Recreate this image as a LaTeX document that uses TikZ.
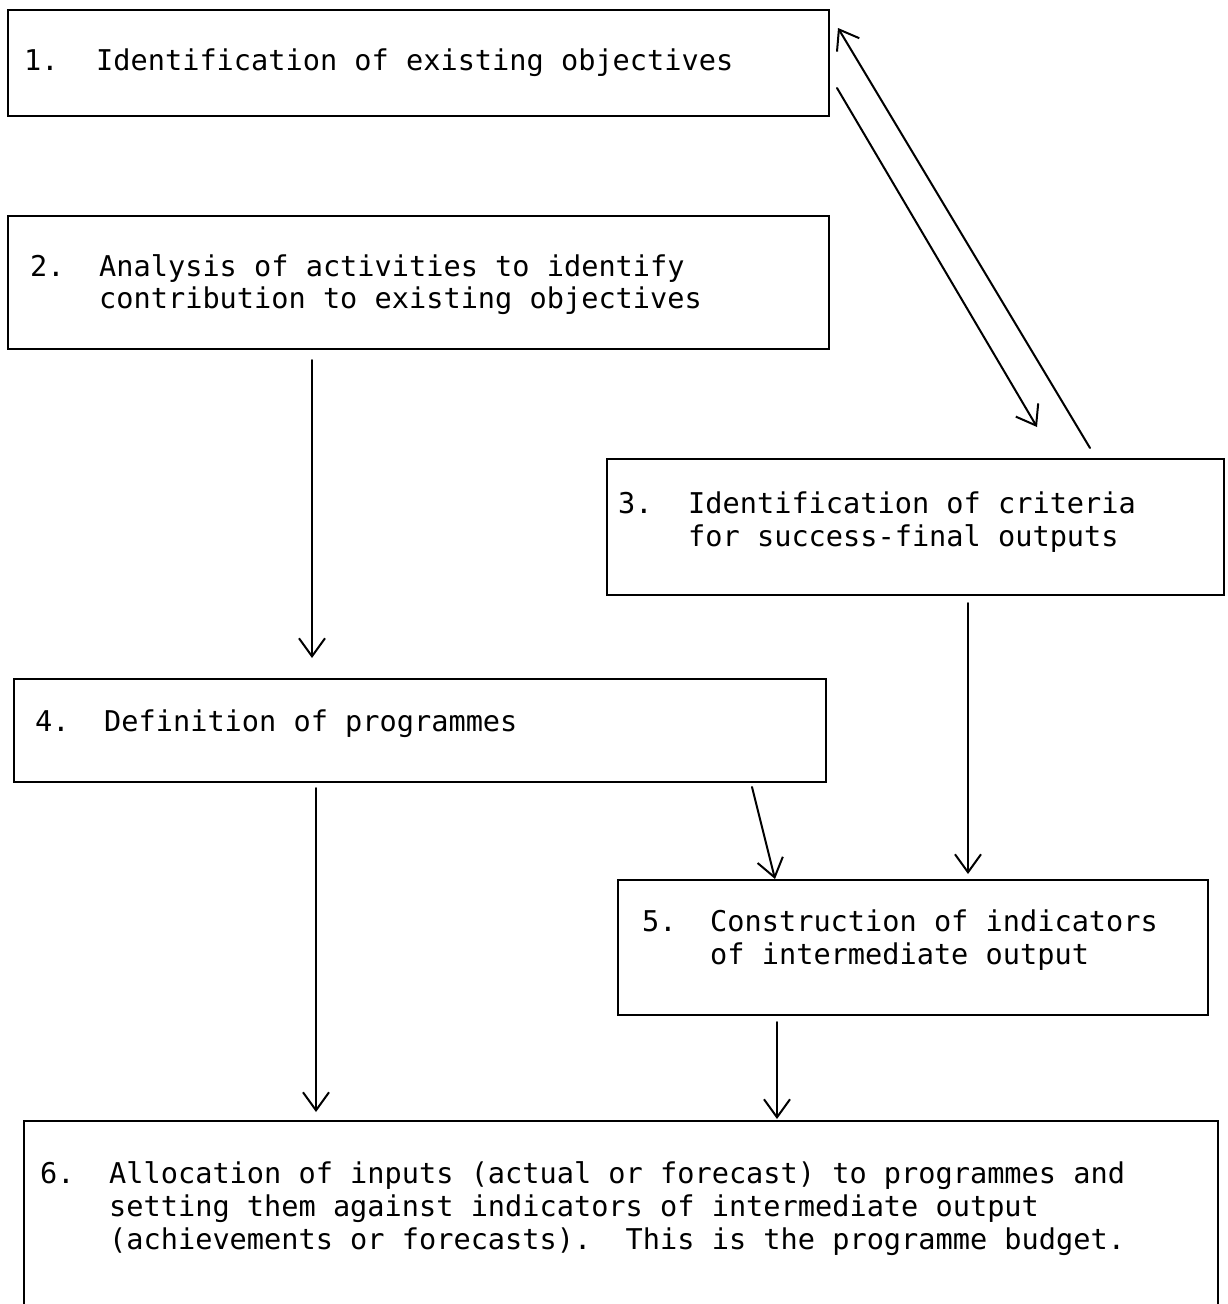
\documentclass[tikz,border=0pt]{standalone}
\usepackage{fontspec}
\setmonofont{DejaVu Sans Mono}
\usetikzlibrary{arrows.meta}
\begin{document}
\frenchspacing
\begin{tikzpicture}[x=1pt,y=-1pt,
  box/.style={draw, line width=2.4pt, inner sep=0pt, outer sep=0pt, anchor=north west},
  txt/.style={font=\ttfamily\fontsize{28.6}{33}\selectfont, anchor=base west, inner sep=0pt},
  arr/.style={line width=2pt, line cap=round, -{Straight Barb[length=18pt,width=26pt,line width=2pt]}}]
\useasboundingbox (0,0) rectangle (1227,1304);
\fill[white] (0,0) rectangle (1227,1304);
% boxes
\node[box, minimum width=821pt, minimum height=106pt] (b1) at (8,10) {};
\node[box, minimum width=821pt, minimum height=133pt] (b2) at (8,216) {};
\node[box, minimum width=617pt, minimum height=136pt] (b3) at (607,459) {};
\node[box, minimum width=812pt, minimum height=103pt] (b4) at (14,679) {};
\node[box, minimum width=590pt, minimum height=135pt] (b5) at (618,880) {};
\node[box, minimum width=1194pt, minimum height=191pt] (b6) at (24,1121) {};
% texts
\node[txt] (n1) at (24,70) {1.};
\node[txt] (t1) at (96,70) {Identification of existing objectives};
\node[txt] (n2) at (30,276) {2.};
\node[txt] (t2a) at (99,276) {Analysis of activities to identify};
\node[txt] (t2b) at (99,308) {contribution to existing objectives};
\node[txt] (n3) at (618,513) {3.};
\node[txt] (t3a) at (688,513) {Identification of criteria};
\node[txt] (t3b) at (688,546) {for success-final outputs};
\node[txt] (n4) at (35,731) {4.};
\node[txt] (t4) at (104,731) {Definition of programmes};
\node[txt] (n5) at (642,931) {5.};
\node[txt] (t5a) at (710,931) {Construction of indicators};
\node[txt] (t5b) at (710,964) {of intermediate output};
\node[txt] (n6) at (40,1183) {6.};
\node[txt] (t6a) at (109,1183) {Allocation of inputs (actual or forecast) to programmes and};
\node[txt] (t6b) at (109,1216) {setting them against indicators of intermediate output};
\node[txt] (t6c) at (109,1249) {(achievements or forecasts).\ \ This is the programme budget.};
% connector reference points
\coordinate (xa) at (312,0);
\coordinate (xb) at (316,0);
\coordinate (xd) at (968,0);
\coordinate (xe) at (777,0);
\path (b4.south east) ++(-74,5) coordinate (c4s);
\path (b5.north west) ++(157,-1) coordinate (c5n);
\path (b1.east) ++(8,25) coordinate (c1s);
\path (b3.north west) ++(430,-32) coordinate (c3n);
\path (b3.north west) ++(483,-11) coordinate (c3s);
\path (b1.north east) ++(9,18) coordinate (c1n);
% connectors
\draw[arr, shorten <=11pt, shorten >=21pt] (b2.south -| xa) -- (b4.north -| xa);
\draw[arr, shorten <=6pt, shorten >=9pt] (b4.south -| xb) -- (b6.north -| xb);
\draw[arr] (c4s) -- (c5n);
\draw[arr, shorten <=8pt, shorten >=6pt] (b3.south -| xd) -- (b5.north -| xd);
\draw[arr, shorten <=7pt, shorten >=2pt] (b5.south -| xe) -- (b6.north -| xe);
\draw[arr] (c1s) -- (c3n);
\draw[arr] (c3s) -- (c1n);
\end{tikzpicture}
\end{document}
